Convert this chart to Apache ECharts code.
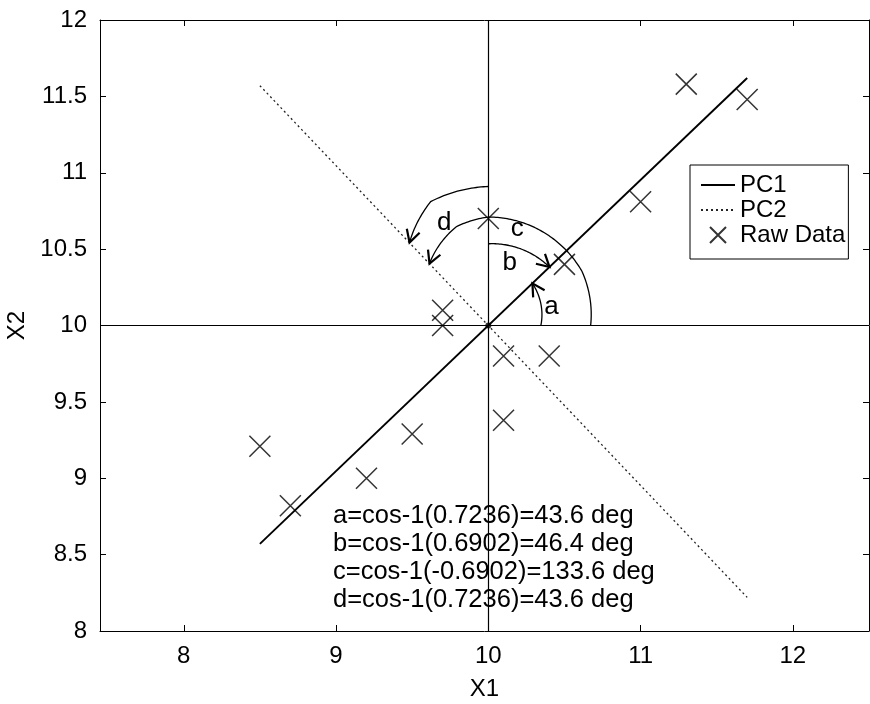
<!DOCTYPE html>
<html><head><meta charset="utf-8">
<script src="https://cdn.jsdelivr.net/npm/echarts@6/dist/echarts.min.js"></script>
<style>html,body{margin:0;padding:0;background:#fff}#c{width:870px;height:704px}</style>
</head><body><div id="c"></div>
<script>
// ---- data ----
const xTicks = [8, 9, 10, 11, 12];
const yTicks = [8, 8.5, 9, 9.5, 10, 10.5, 11, 11.5, 12];
const rawX = [8.5, 8.7, 9.2, 9.5, 9.7, 9.7, 10.0, 10.1, 10.1, 10.4, 10.5, 11.0, 11.3, 11.7];
const rawY = [9.21, 8.82, 9.00, 9.29, 10.10, 10.00, 10.70, 9.80, 9.38, 9.80, 10.40, 10.81, 11.58, 11.48];
const pc1X = [8.5, 11.7];
const pc1Y = [8.57, 11.62];
const pc2X = [8.5, 11.7];
const pc2Y = [11.57, 8.22];
const origin = [10, 10];
const arcNames = ['a', 'b', 'c', 'd'];
const arcAngles = [[0, 43.6], [90, 43.6], [0, 30, 90, 108, 133.6], [90, 115, 133.6]];
const arcRadii = [[0.345, 0.40], [0.535, 0.555], [0.672, 0.71, 0.71, 0.68, 0.56], [0.91, 0.895, 0.75]];
const arcLabelX = [10.415, 10.14, 10.19, 9.71];
const arcLabelY = [10.124, 10.41, 10.63, 10.67];
const notes = ['a=cos-1(0.7236)=43.6 deg', 'b=cos-1(0.6902)=46.4 deg', 'c=cos-1(-0.6902)=133.6 deg', 'd=cos-1(0.7236)=43.6 deg'];

const FONT = 'Liberation Sans, Arial, Helvetica, sans-serif';
const chart = echarts.init(document.getElementById('c'), null, {renderer: 'canvas'});

function zip(a, b) { return a.map((v, i) => [v, b[i]]); }

const axisCommon = {
  axisLine: {show: true, onZero: false, lineStyle: {color: '#000', width: 1}},
  splitLine: {show: false}
};
const tickStyle = {show: true, inside: true, length: 6, lineStyle: {color: '#000'}};

const option = {
  backgroundColor: '#fff',
  animation: false,
  grid: {left: 100, right: 1, top: 20, bottom: 73, containLabel: false, outerBoundsMode: 'none'},
  xAxis: [
    Object.assign({}, axisCommon, {
      type: 'value', min: 7.45, max: 12.5, position: 'bottom',
      name: 'X1', nameLocation: 'middle', nameGap: 46,
      nameTextStyle: {fontSize: 24, color: '#000', fontFamily: FONT},
      axisTick: Object.assign({}, tickStyle, {customValues: xTicks}),
      axisLabel: {fontSize: 24, color: '#000', fontFamily: FONT, margin: 13, customValues: xTicks}
    }),
    Object.assign({}, axisCommon, {
      type: 'value', min: 7.45, max: 12.5, position: 'top',
      axisTick: Object.assign({}, tickStyle, {customValues: xTicks}),
      axisLabel: {show: false}
    })
  ],
  yAxis: [
    Object.assign({}, axisCommon, {
      type: 'value', min: 8, max: 12, position: 'left',
      name: 'X2', nameLocation: 'middle', nameGap: 70, nameRotate: 90,
      nameTextStyle: {fontSize: 24, color: '#000', fontFamily: FONT},
      axisTick: Object.assign({}, tickStyle, {customValues: yTicks}),
      axisLabel: {fontSize: 24, color: '#000', fontFamily: FONT, margin: 13, customValues: yTicks}
    }),
    Object.assign({}, axisCommon, {
      type: 'value', min: 8, max: 12, position: 'right',
      axisTick: Object.assign({}, tickStyle, {customValues: yTicks}),
      axisLabel: {show: false}
    })
  ],
  legend: {
    orient: 'vertical', left: 690, top: 165,
    itemWidth: 34, itemHeight: 16, itemGap: 1,
    padding: [8, 3, 12, 10],
    borderColor: '#000', borderWidth: 1, backgroundColor: '#fff',
    textStyle: {fontSize: 24, color: '#000', fontFamily: FONT},
    data: [
      {name: 'PC1', itemStyle: {opacity: 0}},
      {name: 'PC2', itemStyle: {opacity: 0}},
      {name: 'Raw Data'}
    ]
  },
  series: [
    {
      name: 'PC1', type: 'line', data: zip(pc1X, pc1Y), symbol: 'none', showSymbol: false,
      lineStyle: {color: '#000', width: 1.9, type: 'solid'}, itemStyle: {color: '#000'},
      z: 3,
      markLine: {
        silent: true, symbol: 'none', label: {show: false},
        lineStyle: {color: '#000', width: 1.2, type: 'solid'},
        data: [{xAxis: origin[0]}, {yAxis: origin[1]}]
      }
    },
    {
      name: 'PC2', type: 'line', data: zip(pc2X, pc2Y), symbol: 'none', showSymbol: false,
      lineStyle: {color: '#222', width: 1.3, type: [2, 3]}, itemStyle: {color: '#222'}, z: 3
    },
    {
      name: 'Raw Data', type: 'scatter', data: zip(rawX, rawY),
      symbol: 'path://M0,0L10,10M10,0L0,10', symbolSize: 21,
      itemStyle: {color: 'transparent', borderColor: '#000', borderWidth: 1.5}, z: 4
    },
    {
      name: 'origin', type: 'scatter', data: [origin], symbol: 'circle', symbolSize: 6,
      itemStyle: {color: '#000'}, silent: true, z: 4
    },
    {
      name: 'arcs', type: 'custom', data: zip(arcLabelX, arcLabelY),
      encode: {x: 0, y: 1}, z: 5, silent: true,
      renderItem: function (params, api) {
        const i = params.dataIndex;
        const c = api.coord(origin);
        const s = api.size([1, 1]);
        const A = arcAngles[i], R = arcRadii[i];
        const pts = [];
        for (let k = 0; k < A.length - 1; k++) {
          const a0 = A[k], a1 = A[k + 1], r0 = R[k], r1 = R[k + 1];
          const n = Math.max(2, Math.ceil(Math.abs(a1 - a0)));
          for (let j = (k === 0 ? 0 : 1); j <= n; j++) {
            const t = j / n;
            const ang = (a0 + (a1 - a0) * t) * Math.PI / 180;
            const r = r0 + (r1 - r0) * t;
            pts.push([c[0] + r * s[0] * Math.cos(ang), c[1] - r * s[1] * Math.sin(ang)]);
          }
        }
        const p1 = pts[pts.length - 1], p0 = pts[pts.length - 4];
        const dir = Math.atan2(p1[1] - p0[1], p1[0] - p0[0]);
        const L = 14, h = 0.5;
        const w1 = [p1[0] - L * Math.cos(dir - h), p1[1] - L * Math.sin(dir - h)];
        const w2 = [p1[0] - L * Math.cos(dir + h), p1[1] - L * Math.sin(dir + h)];
        const lp = api.coord([api.value(0), api.value(1)]);
        return {
          type: 'group', children: [
            {type: 'polyline', shape: {points: pts}, style: {stroke: '#000', lineWidth: 1.3, fill: null}},
            {type: 'polyline', shape: {points: [w1, p1, w2]}, style: {stroke: '#000', lineWidth: 2.2, fill: null}},
            {type: 'text', x: lp[0], y: lp[1], style: {text: arcNames[i], fontSize: 26, fontFamily: FONT, fill: '#000', align: 'center', verticalAlign: 'middle'}}
          ]
        };
      }
    }
  ],
  graphic: [
    {
      type: 'text', left: 333, top: 502,
      style: {text: notes.join('\n'), fontSize: 25.5, lineHeight: 28, fontFamily: FONT, fill: '#000'}
    }
  ]
};
chart.setOption(option);
</script>
</body></html>
